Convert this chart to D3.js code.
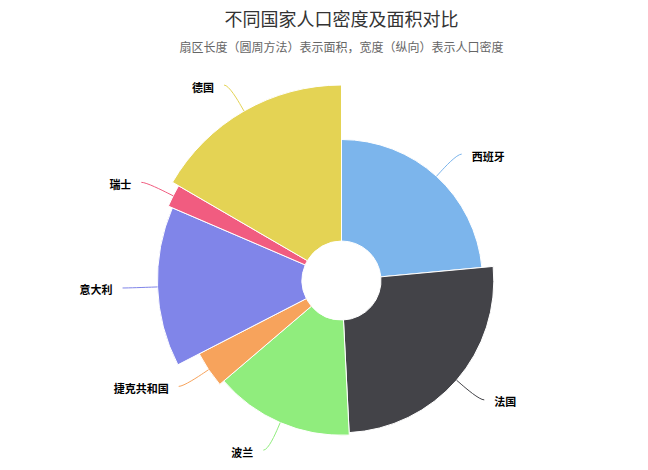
<!DOCTYPE html>
<html>
<head>
<meta charset="utf-8">
<script src="https://cdn.jsdelivr.net/npm/d3@7"></script>
<style>
html,body{margin:0;padding:0;background:#fff;}
svg{display:block;}
</style>
</head>
<body>
<svg id="chart" width="648" height="470"></svg>
<script>
const categories = ['西班牙', '法国', '波兰', '捷克共和国', '意大利', '瑞士', '德国'];
const areas = [505370, 551500, 312685, 78867, 301340, 41277, 357022];
const densities = [92.9, 118.7, 124.6, 137.5, 201.8, 214.5, 235.6];
const colors = ['#7cb5ec', '#434348', '#90ed7d', '#f7a35c', '#8085e9', '#f15c80', '#e4d354'];
const titleText = '不同国家人口密度及面积对比';
const subtitleText = '扇区长度（圆周方法）表示面积，宽度（纵向）表示人口密度';

const data = categories.map((c, i) => ({name: c, area: areas[i], density: densities[i], color: colors[i]}));

const svg = d3.select('#chart');
const W = 648, H = 470;
const cx = 341.5, cy = 280.5;
const innerR = 39.5;
const labelDistance = 30;
const font = '"Noto Sans CJK SC", "Noto Sans", sans-serif';

svg.append('text')
  .attr('x', cx).attr('y', 26)
  .attr('text-anchor', 'middle')
  .style('font-family', font).style('font-size', '18px').style('fill', '#333333')
  .text(titleText);
svg.append('text')
  .attr('x', cx).attr('y', 52)
  .attr('text-anchor', 'middle')
  .style('font-family', font).style('font-size', '12px').style('fill', '#666666')
  .text(subtitleText);

const rScale = d3.scaleRadial().domain(d3.extent(densities)).range([141, 195.5]);

const pie = d3.pie().sort(null).value(d => d.area).startAngle(0).endAngle(2 * Math.PI);
const arcs = pie(data);

const arc = d3.arc().innerRadius(innerR).outerRadius(d => rScale(d.data.density));

const g = svg.append('g').attr('transform', `translate(${cx},${cy})`);

g.selectAll('path.slice').data(arcs).enter().append('path')
  .attr('class', 'slice')
  .attr('d', arc)
  .attr('fill', d => d.data.color)
  .attr('stroke', '#ffffff')
  .attr('stroke-width', 1)
  .attr('stroke-linejoin', 'round');

// labels & connectors
const pt = (a, R) => [R * Math.sin(a), -R * Math.cos(a)];
arcs.forEach(d => {
  const a = (d.startAngle + d.endAngle) / 2;
  const r = rScale(d.data.density);
  const touch = pt(a, r);
  const brk = pt(a, r + 6);
  const nat = pt(a, r + labelDistance);
  const left = nat[0] < 0;
  const R = r + labelDistance;
  const y = nat[1];
  const dx = Math.sqrt(Math.max(0, R * R - y * y));
  const x = (left ? -1 : 1) * (dx + 5);
  const path = `M${x},${y} C${x + (left ? 5 : -5)},${y} ${2 * brk[0] - touch[0]},${2 * brk[1] - touch[1]} ${brk[0]},${brk[1]} L${touch[0]},${touch[1]}`;
  g.append('path')
    .attr('d', path)
    .attr('fill', 'none')
    .attr('stroke', d.data.color)
    .attr('stroke-width', 1);
  g.append('text')
    .attr('x', x + (left ? -10 : 10))
    .attr('y', y + 1.5)
    .attr('text-anchor', left ? 'end' : 'start')
    .attr('dominant-baseline', 'central')
    .style('font-family', font)
    .style('font-size', '11px')
    .style('font-weight', 'bold')
    .style('fill', '#000000')
    .style('stroke', '#ffffff')
    .style('stroke-width', 2)
    .style('paint-order', 'stroke')
    .style('stroke-linejoin', 'round')
    .text(d.data.name);
});
</script>
</body>
</html>
